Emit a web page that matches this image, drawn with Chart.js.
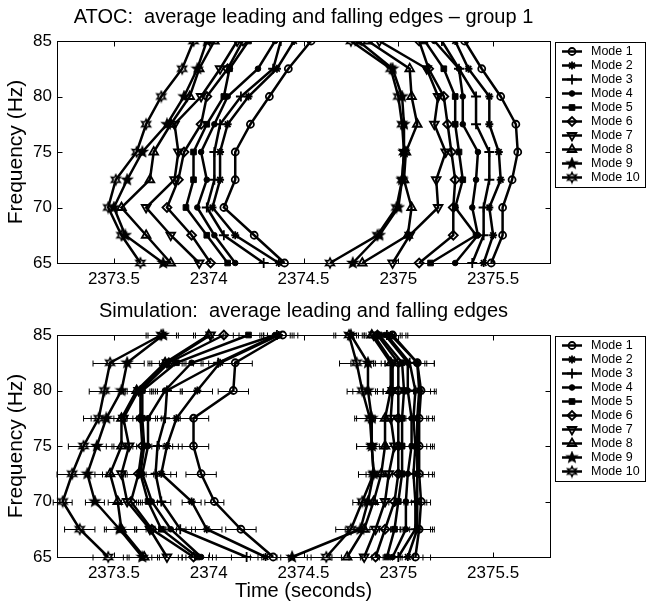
<!DOCTYPE html>
<html>
<head>
<meta charset="utf-8">
<script src="https://cdn.jsdelivr.net/npm/chart.js@4.4.1/dist/chart.umd.min.js"></script>
<style>
  html, body { margin: 0; padding: 0; background: #fff; }
  #wrap { position: relative; width: 648px; height: 603px; }
  canvas { position: absolute; left: 0; }
  #atoc { top: 0; }
  #sim { top: 290px; }
</style>
</head>
<body>
<div id="wrap">
  <canvas id="atoc" width="648" height="290" style="width:648px;height:290px"></canvas>
  <canvas id="sim" width="648" height="313" style="width:648px;height:313px"></canvas>
</div>
<script>
// frequencies (Hz) where the edges were measured, low to high
const freqs = [65, 67.5, 70, 72.5, 75, 77.5, 80, 82.5, 85];
const modeNames = ['Mode 1', 'Mode 2', 'Mode 3', 'Mode 4', 'Mode 5',
                   'Mode 6', 'Mode 7', 'Mode 8', 'Mode 9', 'Mode 10'];
const xTicks = [2373.5, 2374, 2374.5, 2375, 2375.5];
const yTicks = [65, 70, 75, 80, 85];

// ATOC group 1, leading edge time (s) per mode, one value per frequency
const atocLead = [
  [2374.40, 2374.24, 2374.08, 2374.14, 2374.14, 2374.22, 2374.32, 2374.42, 2374.54],
  [2374.37, 2374.14, 2374.02, 2374.06, 2374.06, 2374.10, 2374.21, 2374.36, 2374.45],
  [2374.29, 2374.08, 2373.99, 2374.03, 2374.03, 2374.06, 2374.17, 2374.34, 2374.38],
  [2374.14, 2374.03, 2373.94, 2373.99, 2373.96, 2374.03, 2374.10, 2374.26, 2374.35],
  [2374.10, 2373.99, 2373.88, 2373.92, 2373.92, 2373.99, 2374.08, 2374.11, 2374.21],
  [2374.01, 2373.91, 2373.78, 2373.84, 2373.87, 2373.96, 2373.99, 2374.10, 2374.18],
  [2373.95, 2373.80, 2373.67, 2373.82, 2373.84, 2373.82, 2373.96, 2374.06, 2374.15],
  [2373.80, 2373.67, 2373.54, 2373.69, 2373.71, 2373.80, 2373.90, 2373.95, 2374.03],
  [2373.76, 2373.56, 2373.50, 2373.57, 2373.65, 2373.78, 2373.87, 2373.94, 2373.99],
  [2373.64, 2373.54, 2373.47, 2373.51, 2373.62, 2373.67, 2373.75, 2373.86, 2373.92]
];
// ATOC group 1, falling edge time (s)
const atocFall = [
  [2375.49, 2375.55, 2375.55, 2375.60, 2375.63, 2375.62, 2375.54, 2375.44, 2375.35],
  [2375.45, 2375.50, 2375.48, 2375.54, 2375.53, 2375.48, 2375.48, 2375.37, 2375.30],
  [2375.39, 2375.45, 2375.45, 2375.48, 2375.48, 2375.41, 2375.41, 2375.32, 2375.23],
  [2375.30, 2375.42, 2375.39, 2375.41, 2375.42, 2375.34, 2375.34, 2375.32, 2375.19],
  [2375.17, 2375.41, 2375.30, 2375.34, 2375.32, 2375.30, 2375.30, 2375.24, 2375.14],
  [2375.11, 2375.29, 2375.29, 2375.30, 2375.28, 2375.26, 2375.24, 2375.16, 2375.11],
  [2374.97, 2375.06, 2375.21, 2375.20, 2375.25, 2375.19, 2375.21, 2375.15, 2374.90],
  [2374.81, 2375.05, 2375.07, 2375.03, 2375.04, 2375.10, 2375.07, 2375.06, 2374.84],
  [2374.76, 2374.90, 2375.00, 2375.02, 2375.03, 2375.03, 2375.02, 2374.97, 2374.79],
  [2374.64, 2374.89, 2374.99, 2375.02, 2375.03, 2375.02, 2375.00, 2374.96, 2374.75]
];

// simulation, leading edge time (s)
const simLead = [
  [2374.34, 2374.17, 2374.03, 2373.96, 2373.92, 2373.92, 2374.13, 2374.14, 2374.39],
  [2374.30, 2373.99, 2373.91, 2373.75, 2373.78, 2373.83, 2373.94, 2374.06, 2374.37],
  [2374.20, 2373.85, 2373.75, 2373.72, 2373.73, 2373.77, 2373.78, 2374.05, 2374.36],
  [2373.96, 2373.80, 2373.70, 2373.65, 2373.68, 2373.68, 2373.77, 2373.91, 2374.35],
  [2373.94, 2373.75, 2373.68, 2373.64, 2373.66, 2373.65, 2373.65, 2373.83, 2374.21],
  [2373.92, 2373.70, 2373.59, 2373.63, 2373.65, 2373.64, 2373.64, 2373.79, 2374.08],
  [2373.78, 2373.69, 2373.57, 2373.54, 2373.58, 2373.55, 2373.63, 2373.78, 2374.01],
  [2373.66, 2373.54, 2373.52, 2373.48, 2373.54, 2373.54, 2373.62, 2373.77, 2374.00],
  [2373.65, 2373.53, 2373.40, 2373.36, 2373.41, 2373.46, 2373.54, 2373.57, 2373.76],
  [2373.47, 2373.32, 2373.23, 2373.28, 2373.34, 2373.42, 2373.45, 2373.48, 2373.75]
];
// simulation, falling edge time (s)
const simFall = [
  [2375.09, 2375.11, 2375.12, 2375.11, 2375.11, 2375.11, 2375.12, 2375.10, 2374.97],
  [2375.05, 2375.10, 2375.10, 2375.10, 2375.10, 2375.10, 2375.11, 2375.10, 2374.96],
  [2375.00, 2375.09, 2375.09, 2375.08, 2375.09, 2375.08, 2375.09, 2375.06, 2374.94],
  [2374.97, 2375.04, 2375.04, 2375.05, 2375.07, 2375.07, 2375.05, 2375.05, 2374.93],
  [2374.94, 2374.98, 2375.00, 2375.02, 2375.02, 2375.02, 2375.03, 2375.02, 2374.90],
  [2374.88, 2374.93, 2374.98, 2375.00, 2375.00, 2375.00, 2375.00, 2375.00, 2374.89],
  [2374.82, 2374.88, 2374.93, 2374.95, 2374.98, 2374.96, 2374.97, 2374.97, 2374.87],
  [2374.73, 2374.82, 2374.87, 2374.91, 2374.93, 2374.93, 2374.96, 2374.96, 2374.86],
  [2374.44, 2374.80, 2374.84, 2374.87, 2374.86, 2374.86, 2374.84, 2374.84, 2374.75],
  [2374.62, 2374.75, 2374.81, 2374.87, 2374.86, 2374.85, 2374.81, 2374.78, 2374.74]
];
// simulation error bar half-width (s) per frequency
const simErr = [0.08, 0.08, 0.05, 0.08, 0.08, 0.08, 0.08, 0.09, 0.08];

const FONT = '"Liberation Sans", Arial, Helvetica, sans-serif';

function starImage(points, outer, inner, filled) {
    const size = outer * 2 + 4;
    const c = document.createElement('canvas');
    c.width = c.height = size;
    const g = c.getContext('2d');
    g.translate(size / 2, size / 2);
    g.beginPath();
    for (let k = 0; k < points * 2; k++) {
        const r = k % 2 ? inner : outer;
        const a = -Math.PI / 2 + k * Math.PI / points;
        g.lineTo(r * Math.cos(a), r * Math.sin(a));
    }
    g.closePath();
    g.strokeStyle = '#000';
    g.lineWidth = 1.6;
    if (filled) { g.fillStyle = '#000'; g.fill(); }
    g.stroke();
    return c;
}

const HOLLOW = 'rgba(0,0,0,0)';
const markers = [
    { style: 'circle', r: 3.5, bw: 1.8, fill: HOLLOW },
    { style: 'star', r: 4, bw: 1.8, fill: HOLLOW },
    { style: 'cross', r: 5, bw: 1.8, fill: HOLLOW },
    { style: 'circle', r: 2.8, bw: 1, fill: '#000' },
    { style: 'rect', r: 4, bw: 1, fill: '#000' },
    { style: 'rectRot', r: 4.5, bw: 1.8, fill: HOLLOW },
    { style: 'triangle', r: 5, bw: 1.8, fill: HOLLOW, rot: 180 },
    { style: 'triangle', r: 5, bw: 1.8, fill: HOLLOW },
    { style: starImage(5, 5, 2.2, true), r: 5, bw: 0, fill: '#000' },
    { style: starImage(6, 5, 2.6, false), r: 5, bw: 0, fill: HOLLOW }
];

const framePlugin = {
    id: 'frame',
    afterDatasetsDraw(chart) {
        const { ctx, chartArea: a, scales: { x, y } } = chart;
        const L = Math.round(a.left) + 0.5, R = Math.round(a.right) + 0.5;
        const T = Math.round(a.top) + 0.5, B = Math.round(a.bottom) + 0.5;
        ctx.save();
        ctx.strokeStyle = '#000';
        ctx.lineWidth = 1;
        ctx.strokeRect(L, T, R - L, B - T);
        ctx.beginPath();
        xTicks.forEach(v => {
            const px = Math.round(x.getPixelForValue(v)) + 0.5;
            ctx.moveTo(px, B); ctx.lineTo(px, B - 5);
            ctx.moveTo(px, T); ctx.lineTo(px, T + 5);
        });
        yTicks.forEach(v => {
            const py = Math.round(y.getPixelForValue(v)) + 0.5;
            ctx.moveTo(L, py); ctx.lineTo(L + 5, py);
            ctx.moveTo(R, py); ctx.lineTo(R - 5, py);
        });
        ctx.stroke();
        ctx.restore();
    }
};

const errorBarPlugin = {
    id: 'errorBars',
    beforeDatasetsDraw(chart) {
        const { ctx, scales: { x, y } } = chart;
        ctx.save();
        ctx.strokeStyle = '#000';
        ctx.lineWidth = 1;
        ctx.beginPath();
        chart.data.datasets.forEach(ds => {
            if (!ds.errX) return;
            ds.data.forEach((p, i) => {
                const x0 = x.getPixelForValue(p.x - ds.errX[i]);
                const x1 = x.getPixelForValue(p.x + ds.errX[i]);
                const py = Math.round(y.getPixelForValue(p.y)) + 0.5;
                ctx.moveTo(x0, py); ctx.lineTo(x1, py);
                ctx.moveTo(x0, py - 3); ctx.lineTo(x0, py + 3);
                ctx.moveTo(x1, py - 3); ctx.lineTo(x1, py + 3);
            });
        });
        ctx.stroke();
        ctx.restore();
    }
};

const legendPlugin = {
    id: 'modeLegend',
    afterDraw(chart) {
        const { ctx, chartArea: a } = chart;
        const left = Math.round(a.right) + 5, top = Math.round(a.top) + 1;
        const w = 645 - left, h = 145;
        ctx.save();
        ctx.fillStyle = '#fff';
        ctx.fillRect(left, top, w, h);
        ctx.strokeStyle = '#000';
        ctx.lineWidth = 1;
        ctx.strokeRect(left + 0.5, top + 0.5, w, h);
        ctx.font = '12.5px ' + FONT;
        ctx.textBaseline = 'middle';
        modeNames.forEach((name, i) => {
            const yy = top + 9.5 + i * 14;
            const m = markers[i];
            ctx.strokeStyle = '#000';
            ctx.lineWidth = 2.5;
            ctx.beginPath();
            ctx.moveTo(left + 7, yy); ctx.lineTo(left + 27, yy);
            ctx.stroke();
            ctx.fillStyle = m.fill;
            ctx.lineWidth = m.bw;
            Chart.helpers.drawPoint(ctx, { pointStyle: m.style, radius: m.r, rotation: m.rot || 0, borderWidth: m.bw }, left + 17, yy);
            ctx.fillStyle = '#000';
            ctx.fillText(name, left + 36, yy);
        });
        ctx.restore();
    }
};

function modeDatasets(lead, fall, err, clip) {
    const sets = [];
    lead.forEach((row, m) => {
        [row, fall[m]].forEach(times => {
            sets.push({
                label: modeNames[m],
                data: freqs.map((f, i) => ({ x: times[i], y: f })),
                showLine: true,
                borderColor: '#000',
                borderWidth: 2.5,
                pointStyle: markers[m].style,
                pointRadius: markers[m].r,
                pointRotation: markers[m].rot || 0,
                pointBorderWidth: markers[m].bw,
                pointBorderColor: '#000',
                pointBackgroundColor: markers[m].fill,
                errX: err,
                clip: clip
            });
        });
    });
    return sets;
}

function makeChart(id, titleText, lead, fall, err, o) {
    return new Chart(document.getElementById(id), {
        type: 'scatter',
        data: { datasets: modeDatasets(lead, fall, err, o.clip) },
        options: {
            responsive: false,
            animation: false,
            devicePixelRatio: 1,
            layout: { padding: { left: 0, right: 98, top: 0, bottom: 0 } },
            plugins: {
                legend: { display: false },
                tooltip: { enabled: false },
                title: {
                    display: true,
                    text: titleText,
                    fullSize: false,
                    color: '#000',
                    font: { family: FONT, size: 20, weight: 'normal' },
                    padding: o.titlePad
                }
            },
            scales: {
                x: {
                    type: 'linear',
                    min: 2373.2,
                    max: 2375.8,
                    afterBuildTicks: s => { s.ticks = xTicks.map(v => ({ value: v })); },
                    afterFit: s => { s.height = o.xHeight; },
                    grid: { display: false, drawTicks: false },
                    border: { display: false },
                    ticks: {
                        color: '#000', padding: 6, maxRotation: 0, autoSkip: false,
                        font: { family: FONT, size: 17 },
                        callback: v => String(v)
                    },
                    title: {
                        display: o.xTitle,
                        text: 'Time (seconds)',
                        color: '#000',
                        font: { family: FONT, size: 20 },
                        padding: { top: 0, bottom: 0 }
                    }
                },
                y: {
                    type: 'linear',
                    min: 65,
                    max: 85,
                    afterBuildTicks: s => { s.ticks = yTicks.map(v => ({ value: v })); },
                    afterFit: s => { s.width = 57; },
                    grid: { display: false, drawTicks: false },
                    border: { display: false },
                    ticks: { color: '#000', padding: 5, font: { family: FONT, size: 17 } },
                    title: {
                        display: true,
                        text: 'Frequency (Hz)',
                        color: '#000',
                        font: { family: FONT, size: 21 },
                        padding: { top: 4, bottom: 0 }
                    }
                }
            }
        },
        plugins: o.errorBars ? [errorBarPlugin, framePlugin, legendPlugin] : [framePlugin, legendPlugin]
    });
}

makeChart('atoc', 'ATOC:  average leading and falling edges \u2013 group 1', atocLead, atocFall, null, {
    titlePad: { top: 5, bottom: 12 }, xHeight: 27, xTitle: false,
    clip: { left: false, top: 0, right: false, bottom: false }, errorBars: false
});
makeChart('sim', 'Simulation:  average leading and falling edges', simLead, simFall, simErr, {
    titlePad: { top: 9, bottom: 12 }, xHeight: 46, xTitle: true,
    clip: false, errorBars: true
});
</script>
</body>
</html>
